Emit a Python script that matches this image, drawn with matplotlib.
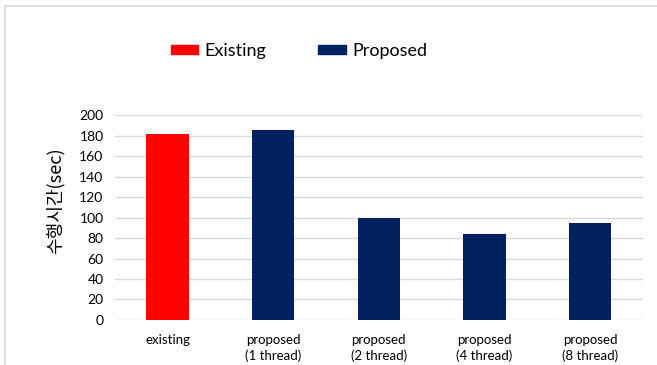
import matplotlib.pyplot as plt
from matplotlib.patches import Patch, Rectangle

categories = ["existing", "proposed\n(1 thread)", "proposed\n(2 thread)",
              "proposed\n(4 thread)", "proposed\n(8 thread)"]
times = [181, 185.5, 100, 84, 95]
groups = ["Existing", "Proposed", "Proposed", "Proposed", "Proposed"]
colors = {"Existing": "#FF0000", "Proposed": "#002060"}

plt.rcParams['font.family'] = ['Lato', 'DejaVu Sans']

fig = plt.figure(figsize=(6.57, 3.65), dpi=100)
ax = fig.add_axes([0.1746, 0.1233, 0.8041, 0.5616])

# outer chart frame
fig.patches.append(Rectangle((5 / 657, -0.1), 1.0, 1.0 - 6 / 365 + 0.1,
                             transform=fig.transFigure, fill=False,
                             edgecolor="#d9d9d9", linewidth=1.2))

x = range(len(categories))
ax.bar(x, times, width=0.4, color=[colors[g] for g in groups], zorder=3)

ax.set_xlim(-0.5, 4.5)
ax.set_ylim(0, 200)
ax.set_yticks(range(0, 201, 20))
ax.set_xticks(list(x))
ax.set_xticklabels(categories, fontsize=9.5, linespacing=1.35)
ax.tick_params(axis="y", labelsize=10, length=0, pad=8)
ax.tick_params(axis="x", length=0, pad=10)
ax.grid(axis="y", color="#d9d9d9", linewidth=1, zorder=0)
for s in ax.spines.values():
    s.set_visible(False)

fig.text(0.084, 0.45, "수행시간(sec)", rotation=90, ha="center", va="center",
         fontsize=13, family=['Noto Sans CJK KR', 'DejaVu Sans'])

handles = [Patch(color=colors["Existing"]), Patch(color=colors["Proposed"])]
fig.legend(handles, ["Existing", "Proposed"], loc="center",
           bbox_to_anchor=(0.455, 0.86), ncol=2, frameon=False,
           fontsize=13, handlelength=1.5, handleheight=0.35,
           handletextpad=0.35, columnspacing=2.9)

fig.savefig("out.png", dpi=100)
